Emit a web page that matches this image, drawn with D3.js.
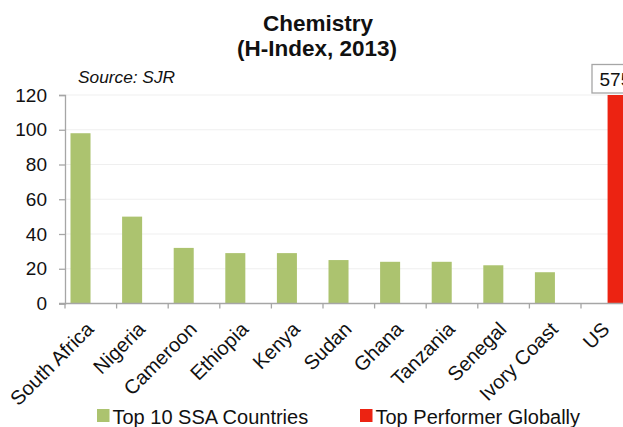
<!DOCTYPE html>
<html>
<head>
<meta charset="utf-8">
<script src="https://cdn.jsdelivr.net/npm/d3@7"></script>
<style>
  html, body { margin: 0; padding: 0; background: #fff; }
  svg { display: block; font-family: "Liberation Sans", Arial, sans-serif; }
</style>
</head>
<body>
<svg id="chart" width="623" height="427"></svg>
<script>
// Chemistry H-Index, 2013 (SJR)
const categories = ["South Africa", "Nigeria", "Cameroon", "Ethiopia", "Kenya", "Sudan",
                    "Ghana", "Tanzania", "Senegal", "Ivory Coast", "US"];
const ssaValues = [98, 50, 32, 29, 29, 25, 24, 24, 22, 18, null];
const topValues = [null, null, null, null, null, null, null, null, null, null, 575];
const yTicks = [0, 20, 40, 60, 80, 100, 120];
const seriesNames = ["Top 10 SSA Countries", "Top Performer Globally"];
const seriesColors = ["#acc36f", "#ec2312"];

const svg = d3.select("#chart");

const plotLeft = 65, plotBottom = 303.5, plotTop = 95;
const step = 51.6;

const x = d3.scaleBand()
  .domain(categories)
  .range([plotLeft, plotLeft + step * categories.length])
  .padding(0);

const xSeries = d3.scaleBand()
  .domain([0, 1])
  .range([5.5, step - 5])
  .paddingInner(0.05);

const y = d3.scaleLinear()
  .domain([0, 120])
  .range([plotBottom, plotTop])
  .clamp(true);

// gridlines
svg.append("g")
  .selectAll("line")
  .data(yTicks.filter(d => d > 0))
  .join("line")
  .attr("x1", plotLeft).attr("x2", 623)
  .attr("y1", d => y(d)).attr("y2", d => y(d))
  .attr("stroke", "#efefef")
  .attr("stroke-width", 1.2);

// bars
const seriesData = [ssaValues, topValues];
seriesData.forEach((vals, s) => {
  svg.append("g")
    .selectAll("rect")
    .data(categories.map((c, i) => ({ c, v: vals[i] })).filter(d => d.v != null))
    .join("rect")
    .attr("x", d => x(d.c) + xSeries(s))
    .attr("width", xSeries.bandwidth())
    .attr("y", d => y(d.v))
    .attr("height", d => plotBottom - y(d.v))
    .attr("fill", seriesColors[s]);
});

// y axis
const yAxis = svg.append("g")
  .attr("transform", `translate(${plotLeft},0)`)
  .call(d3.axisLeft(y).tickValues(yTicks).tickSize(6).tickPadding(12));
yAxis.select(".domain").attr("stroke", "#a6a6a6").attr("stroke-width", 1.3);
yAxis.selectAll(".tick line").attr("stroke", "#a6a6a6").attr("stroke-width", 1.3);
yAxis.selectAll(".tick text")
  .attr("font-size", 19)
  .attr("fill", "#111")
  .attr("font-family", "'Liberation Sans', Arial, sans-serif");

// x axis with ticks at category boundaries
const xg = svg.append("g");
xg.append("line")
  .attr("x1", plotLeft - 6).attr("x2", 623)
  .attr("y1", plotBottom).attr("y2", plotBottom)
  .attr("stroke", "#a6a6a6").attr("stroke-width", 1.3);
xg.selectAll("line.tk")
  .data(categories)
  .join("line")
  .attr("class", "tk")
  .attr("x1", d => x(d)).attr("x2", d => x(d))
  .attr("y1", plotBottom).attr("y2", plotBottom + 5)
  .attr("stroke", "#a6a6a6").attr("stroke-width", 1.3);

xg.selectAll("text")
  .data(categories)
  .join("text")
  .attr("transform", d => `translate(${x(d) + x.bandwidth() / 2 + 4},${plotBottom + 27}) rotate(-45)`)
  .attr("text-anchor", "end")
  .attr("font-size", 20)
  .attr("fill", "#111")
  .text(d => d);

// value callout for the clipped bar
const usIdx = categories.indexOf("US");
const boxX = x("US") + 11;
svg.append("rect")
  .attr("x", boxX).attr("y", 64.5)
  .attr("width", 60).attr("height", 28.5)
  .attr("fill", "#fff")
  .attr("stroke", "#a6a6a6").attr("stroke-width", 1.3);
svg.append("text")
  .attr("x", boxX + 7.5).attr("y", 86)
  .attr("font-size", 19)
  .attr("fill", "#111")
  .text(topValues[usIdx]);

// titles
svg.append("text")
  .attr("x", 318).attr("y", 31)
  .attr("text-anchor", "middle")
  .attr("font-size", 22.5).attr("font-weight", "bold")
  .attr("fill", "#111")
  .text("Chemistry");
svg.append("text")
  .attr("x", 317).attr("y", 56)
  .attr("text-anchor", "middle")
  .attr("font-size", 22.5).attr("font-weight", "bold")
  .attr("fill", "#111")
  .text("(H-Index, 2013)");
svg.append("text")
  .attr("x", 78).attr("y", 83)
  .attr("font-size", 17.3).attr("font-style", "italic")
  .attr("fill", "#111")
  .text("Source: SJR");

// legend
const legendX = [97, 360];
const legend = svg.append("g")
  .selectAll("g")
  .data(seriesNames)
  .join("g")
  .attr("transform", (d, i) => `translate(${legendX[i]},409)`);
legend.append("rect")
  .attr("width", 12.5).attr("height", 13)
  .attr("fill", (d, i) => seriesColors[i]);
legend.append("text")
  .attr("x", 15.5).attr("y", 14.5)
  .attr("font-size", 20)
  .attr("fill", "#111")
  .text(d => d);
</script>
</body>
</html>
